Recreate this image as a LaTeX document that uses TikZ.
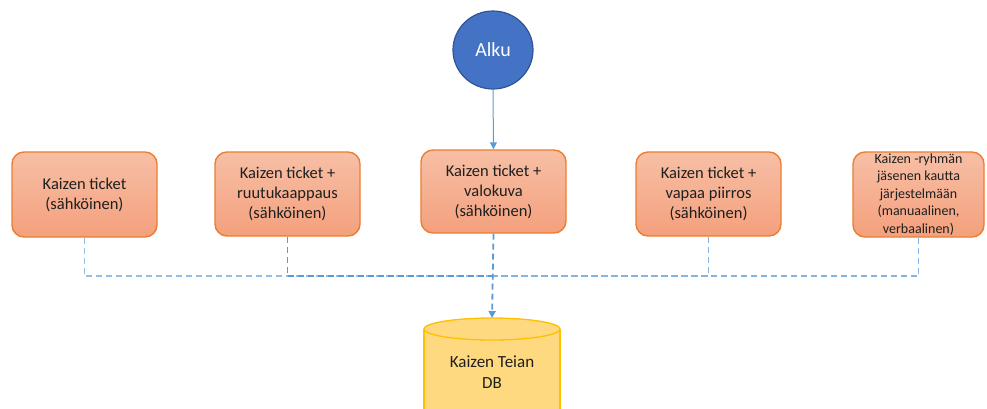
\documentclass[tikz,border=0pt]{standalone}
\usepackage{fontspec}
\setmainfont{Carlito}
\usetikzlibrary{arrows.meta,calc,shapes.geometric}
\definecolor{boxedge}{HTML}{ED7D31}
\definecolor{boxtop}{HTML}{F7BFA6}
\definecolor{boxbot}{HTML}{F4A07C}
\definecolor{startfill}{HTML}{4472C4}
\definecolor{startedge}{HTML}{2F5597}
\definecolor{dbfill}{HTML}{FFD97F}
\definecolor{dbedge}{HTML}{FFC000}
\definecolor{link}{HTML}{5B9BD5}
\definecolor{txt}{HTML}{1F1F1F}
\tikzset{
  x=1pt, y=-1pt,
  inputbox/.style={draw=boxedge, line width=1.4pt, rounded corners=12pt,
    top color=boxtop, bottom color=boxbot, align=center, text=txt,
    font=\fontsize{16.5}{20}\selectfont, inner sep=0pt},
  startnode/.style={ellipse, draw=startedge, line width=1.2pt, fill=startfill,
    text=white, font=\fontsize{20}{22}\selectfont, inner sep=0pt},
  feed/.style={draw=link, line width=1.8pt, dash pattern=on 6pt off 4pt},
  tip/.style={-{Triangle[length=7pt,width=7pt]}},
}
\begin{document}
\begin{tikzpicture}
\useasboundingbox (0,0) rectangle (987,408);
\clip (0,0) rectangle (987,408);

% start node
\node[startnode, minimum width=80pt, minimum height=78pt] (alku) at (493,50) {Alku};

% input channels
\node[inputbox, minimum width=145pt, minimum height=85pt] (b1) at (84.5,194.5)
  {Kaizen ticket\\(sähköinen)};
\node[inputbox, minimum width=145pt, minimum height=84pt] (b2) at (287.5,194)
  {Kaizen ticket +\\ruutukaappaus\\(sähköinen)};
\node[inputbox, minimum width=145pt, minimum height=83pt] (b3) at (493.5,191.5)
  {Kaizen ticket +\\valokuva\\(sähköinen)};
\node[inputbox, minimum width=145pt, minimum height=84pt] (b4) at (708.5,194)
  {Kaizen ticket +\\vapaa piirros\\(sähköinen)};
\node[inputbox, minimum width=131pt, minimum height=85pt,
  font=\fontsize{14}{17.5}\selectfont] (b5) at (918.5,194.5)
  {Kaizen -ryhmän\\jäsenen kautta\\järjestelmään\\(manuaalinen,\\verbaalinen)};

% database cylinder
\coordinate (dbtop) at (492,318);
\fill[dbfill] (424,329) -- (424,430) -- (560,430) -- (560,329) arc[start angle=0,end angle=180,x radius=68pt,y radius=11pt] -- cycle;
\draw[dbedge, line width=1.3pt] (424,329) -- (424,430) (560,329) -- (560,430);
\draw[dbedge, line width=1.3pt] (492,329) ellipse[x radius=68pt, y radius=11pt];
\node[text=txt, align=center, font=\fontsize{17}{21}\selectfont] (db) at (492,372)
  {Kaizen Teian\\DB};

% connectors
\coordinate (hub) at (492,276);
\draw[link, line width=1pt, tip] (alku.south) -- (b3.north);
\draw[feed, draw=link!65] (b1.south) |- (hub);
\draw[feed] (b2.south) |- (hub);
\draw[feed, draw=link!75] (b4.south) |- (hub);
\draw[feed, draw=link!75] (b5.south) |- (hub);
\draw[feed, tip] (b3.south) -- (dbtop);
\end{tikzpicture}
\end{document}
